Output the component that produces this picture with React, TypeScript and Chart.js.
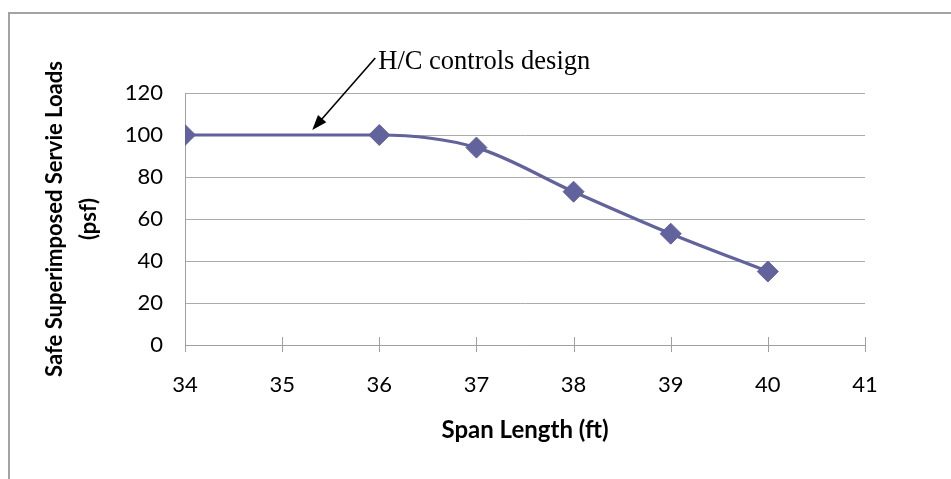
import React, { useEffect, useRef } from "react";
import { Chart, registerables } from "chart.js";

Chart.register(...registerables);

// ---- data ----
const spanLengths = [34, 36, 37, 38, 39, 40];
const safeLoads = [100, 100, 94, 73, 53, 35];
const xTickValues = [34, 35, 36, 37, 38, 39, 40, 41];
const yTickValues = [0, 20, 40, 60, 80, 100, 120];
const xTitle = "Span Length (ft)";
const yTitle = ["Safe Superimposed Servie Loads", "(psf)"];
const noteText = "H/C controls design";
const noteTipX = 35.31;
const noteTipY = 102.4;

const lineColor = "#62629C";
const gridColor = "#ABABAB";
const axisColor = "#A0A0A0";
const sansFont = "Lato, 'Open Sans', sans-serif";

const decorPlugin = {
  id: "decor",
  beforeDraw(chart: any) {
    const ctx = chart.ctx;
    ctx.save();
    ctx.fillStyle = "#ffffff";
    ctx.fillRect(0, 0, chart.width, chart.height);
    ctx.strokeStyle = "#A3A3A3";
    ctx.lineWidth = 2;
    ctx.strokeRect(9, 13, chart.width + 40, chart.height + 40);
    ctx.restore();
  },
  afterDatasetsDraw(chart: any) {
    const ctx = chart.ctx;
    const xs = chart.scales.x;
    const ys = chart.scales.y;
    ctx.save();
    // crossing tick marks on x axis
    ctx.strokeStyle = axisColor;
    ctx.lineWidth = 1;
    xs.ticks.forEach((t: any) => {
      const px = Math.round(xs.getPixelForValue(t.value)) + 0.5;
      ctx.beginPath();
      ctx.moveTo(px, xs.top - 8);
      ctx.lineTo(px, xs.top + 7);
      ctx.stroke();
    });
    // annotation arrow
    const tipX = xs.getPixelForValue(noteTipX);
    const tipY = ys.getPixelForValue(noteTipY);
    const tailX = tipX + 63;
    const tailY = tipY - 72;
    const ang = Math.atan2(tipY - tailY, tipX - tailX);
    const headLen = 15;
    const headW = 5.5;
    const baseX = tipX - Math.cos(ang) * headLen;
    const baseY = tipY - Math.sin(ang) * headLen;
    ctx.strokeStyle = "#000";
    ctx.lineWidth = 1.6;
    ctx.beginPath();
    ctx.moveTo(tailX, tailY);
    ctx.lineTo(baseX + Math.cos(ang) * 2, baseY + Math.sin(ang) * 2);
    ctx.stroke();
    ctx.fillStyle = "#000";
    ctx.beginPath();
    ctx.moveTo(tipX, tipY);
    ctx.lineTo(baseX - Math.sin(ang) * headW, baseY + Math.cos(ang) * headW);
    ctx.lineTo(baseX + Math.sin(ang) * headW, baseY - Math.cos(ang) * headW);
    ctx.closePath();
    ctx.fill();
    // annotation text
    ctx.font = "26.5px 'Liberation Serif', 'Times New Roman', serif";
    ctx.textAlign = "left";
    ctx.textBaseline = "alphabetic";
    ctx.fillText(noteText, tailX + 3, tailY + 11);
    ctx.restore();
  },
};

export default function App() {
  const canvasRef = useRef<HTMLCanvasElement | null>(null);

  useEffect(() => {
    const canvas = canvasRef.current;
    if (!canvas) return;
    const chart = new Chart(canvas, {
      type: "line",
      data: {
        datasets: [
          {
            label: "Safe loads",
            data: spanLengths.map((x, i) => ({ x, y: safeLoads[i] })),
            borderColor: lineColor,
            backgroundColor: lineColor,
            borderWidth: 3.2,
            pointStyle: "rectRot",
            pointRadius: 10.5,
            pointBorderWidth: 1,
            pointBackgroundColor: lineColor,
            pointBorderColor: lineColor,
            cubicInterpolationMode: "monotone",
            fill: false,
          },
        ],
      },
      options: {
        responsive: false,
        animation: false,
        events: [],
        layout: { padding: { left: 0, top: 93, right: 86, bottom: 0 } },
        plugins: {
          legend: { display: false },
          tooltip: { enabled: false },
        },
        scales: {
          x: {
            type: "linear",
            min: xTickValues[0],
            max: xTickValues[xTickValues.length - 1],
            afterBuildTicks: (s: any) => {
              s.ticks = xTickValues.map((v) => ({ value: v }));
            },
            afterFit: (s: any) => {
              s.height = 134;
            },
            grid: { drawOnChartArea: false, drawTicks: false },
            border: { display: true, color: axisColor, width: 1 },
            ticks: {
              padding: 27,
              color: "#000",
              font: { family: sansFont, size: 22 },
              maxRotation: 0,
              autoSkip: false,
            },
            title: {
              display: true,
              text: xTitle,
              color: "#000",
              font: { family: sansFont, size: 24, weight: "bold" },
              padding: { top: 0, bottom: 34 },
            },
          },
          y: {
            type: "linear",
            min: yTickValues[0],
            max: yTickValues[yTickValues.length - 1],
            afterBuildTicks: (s: any) => {
              s.ticks = yTickValues.map((v) => ({ value: v }));
            },
            afterFit: (s: any) => {
              s.width = 185;
            },
            grid: { color: gridColor, drawTicks: false, lineWidth: 1 },
            border: { display: true, color: axisColor, width: 1 },
            ticks: {
              padding: 22,
              color: "#000",
              font: { family: sansFont, size: 22 },
              autoSkip: false,
            },
            title: {
              display: true,
              text: yTitle,
              color: "#000",
              font: { family: sansFont, size: 22, weight: "bold", lineHeight: 1.55 },
              padding: { top: 38, bottom: 0 },
            },
          },
        },
      },
      plugins: [decorPlugin],
    });
    return () => chart.destroy();
  }, []);

  return (
    <div style={{ position: "fixed", left: 0, top: 0, width: 951, height: 479, background: "#fff" }}>
      <canvas ref={canvasRef} width={951} height={479} style={{ display: "block" }} />
    </div>
  );
}
